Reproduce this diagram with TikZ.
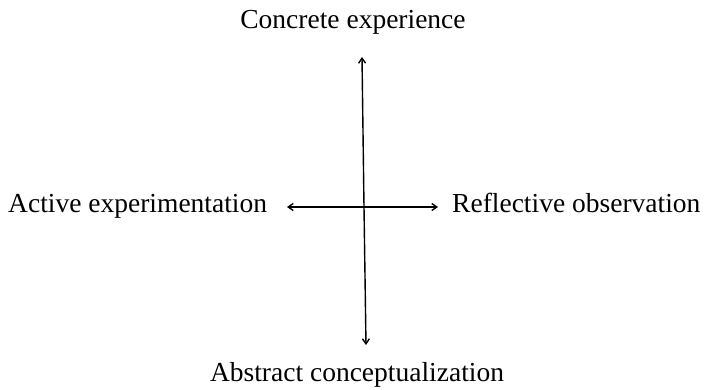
\documentclass[tikz,border=0pt]{standalone}
\usepackage{fontspec}
\setmainfont{Liberation Serif}
\usetikzlibrary{arrows.meta}
\begin{document}
\begin{tikzpicture}[x=1pt,y=-1pt,
  lbl/.style={font=\fontsize{27.5}{32}\selectfont, inner sep=0pt, anchor=base},
  axis/.style={line width=1.4pt, -{Straight Barb[length=5pt,width=7pt]}}]
\useasboundingbox (0,0) rectangle (707,389);
\node[lbl] (ce) at (353,28) {Concrete experience};
\node[lbl, anchor=base west] (ae) at (8,212) {Active experimentation};
\node[lbl, anchor=base west] (ro) at (452,212) {Reflective observation};
\node[lbl] (ac) at (357,381) {Abstract conceptualization};
\coordinate (ctr) at (364,207);
\coordinate (top) at (362,57);
\coordinate (bot) at (366,345);
\coordinate (lft) at (287,207);
\coordinate (rgt) at (438,207);
\draw[axis] (ctr) -- (top);
\draw[axis] (ctr) -- (bot);
\draw[axis] (ctr) -- (lft);
\draw[axis] (ctr) -- (rgt);
\end{tikzpicture}
\end{document}
